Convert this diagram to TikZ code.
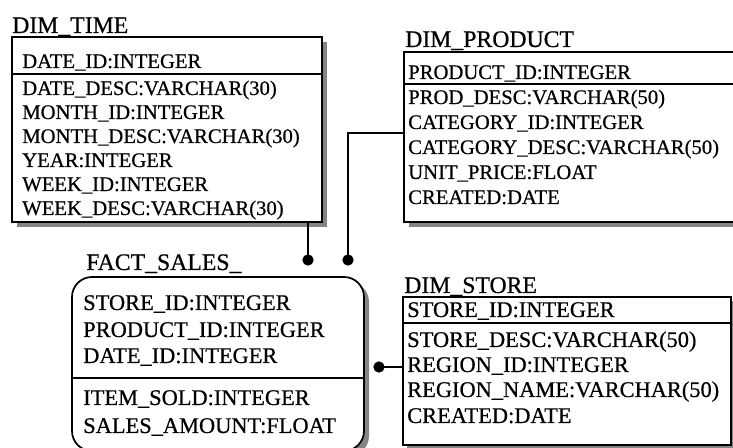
\documentclass[tikz,border=0pt]{standalone}
\usepackage{fontspec}
\setmainfont{Liberation Serif}[FakeBold=0.6]
\usetikzlibrary{positioning}

\tikzset{
  tshadow/.style={fill=black!48, draw=none},
  tbox/.style={draw=black, line width=1.5pt, fill=white},
  sep/.style={line width=1.1pt},
  link/.style={line width=1.5pt},
  dot/.style={circle, fill=black, inner sep=0pt, minimum size=8.5pt},
  tname/.style={anchor=base west, inner sep=0pt, font=\fontsize{17.8}{20}\selectfont},
  field/.style={anchor=base west, inner sep=0pt, font=\fontsize{15.5}{18}\selectfont},
  bigfield/.style={anchor=base west, inner sep=0pt, font=\fontsize{16.8}{19}\selectfont},
}

\begin{document}
\begin{tikzpicture}[x=0.75pt,y=0.75pt,yscale=-1,xscale=1]
\useasboundingbox (0,0) rectangle (733,448);
\clip (0,0) rectangle (733,448);

%Shape: Rectangle [DIM_TIME]
\coordinate (time nw) at (12,37);
\coordinate (time se) at (322,222);
\fill[tshadow] ([shift={(5,5)}]time nw) rectangle ([shift={(5,5)}]time se);
\draw[tbox] (time nw) rectangle (time se);
\draw[sep] (time nw |- 0,74) -- (time se |- 0,74);

%Shape: Rectangle [DIM_PRODUCT]
\coordinate (prod nw) at (404,52);
\coordinate (prod se) at (745,222);
\fill[tshadow] ([shift={(5,5)}]prod nw) rectangle ([shift={(5,5)}]prod se);
\draw[tbox] (prod nw) rectangle (prod se);
\draw[sep] (prod nw |- 0,84) -- (prod se |- 0,84);

%Shape: Rectangle [DIM_STORE]
\coordinate (store nw) at (403,297);
\coordinate (store se) at (731,445);
\fill[tshadow] ([shift={(4,4)}]store nw) rectangle ([shift={(4,4)}]store se);
\draw[tbox] (store nw) rectangle (store se);
\draw[sep] (store nw |- 0,323) -- (store se |- 0,323);

%Shape: Rounded Rect [FACT_SALES_]
\coordinate (fact nw) at (72,277);
\coordinate (fact se) at (364,451);
\fill[tshadow, rounded corners=15pt] ([shift={(5,5)}]fact nw) rectangle ([shift={(5,5)}]fact se);
\draw[tbox, line width=1.3pt, rounded corners=15pt] (fact nw) rectangle (fact se);
\draw[sep] (fact nw |- 0,378) -- (fact se |- 0,378);

% Text Node
\node[tname] (time name) at (12,33) {DIM\_TIME};
\node[field] (time f1) at (22,68) {DATE\_ID:INTEGER};
\node[field] (time f2) at (22,95) {DATE\_DESC:VARCHAR(30)};
\node[field] (time f3) at (22,119) {MONTH\_ID:INTEGER};
\node[field] (time f4) at (22,143) {MONTH\_DESC:VARCHAR(30)};
\node[field] (time f5) at (22,167) {YEAR:INTEGER};
\node[field] (time f6) at (22,191) {WEEK\_ID:INTEGER};
\node[field] (time f7) at (22,215) {WEEK\_DESC:VARCHAR(30)};

% Text Node
\node[tname] (prod name) at (405,47) {DIM\_PRODUCT};
\node[field] (prod f1) at (408,79) {PRODUCT\_ID:INTEGER};
\node[field] (prod f2) at (408,104) {PROD\_DESC:VARCHAR(50)};
\node[field] (prod f3) at (408,129) {CATEGORY\_ID:INTEGER};
\node[field] (prod f4) at (408,154) {CATEGORY\_DESC:VARCHAR(50)};
\node[field] (prod f5) at (408,179) {UNIT\_PRICE:FLOAT};
\node[field] (prod f6) at (408,204) {CREATED:DATE};

% Text Node
\node[tname] (store name) at (404,293) {DIM\_STORE};
\node[bigfield] (store f1) at (407,317) {STORE\_ID:INTEGER};
\node[bigfield] (store f2) at (407,347) {STORE\_DESC:VARCHAR(50)};
\node[bigfield] (store f3) at (407,372) {REGION\_ID:INTEGER};
\node[bigfield] (store f4) at (407,397) {REGION\_NAME:VARCHAR(50)};
\node[bigfield] (store f5) at (407,423) {CREATED:DATE};

% Text Node
\node[tname] (fact name) at (86,270) {FACT\_SALES\_};
\node[bigfield] (fact f1) at (83,310) {STORE\_ID:INTEGER};
\node[bigfield] (fact f2) at (83,337) {PRODUCT\_ID:INTEGER};
\node[bigfield] (fact f3) at (83,363) {DATE\_ID:INTEGER};
\node[bigfield] (fact f4) at (83,405) {ITEM\_SOLD:INTEGER};
\node[bigfield] (fact f5) at (83,433) {SALES\_AMOUNT:FLOAT};

%Straight Lines [links]
\node[dot] (time end) at (308,260) {};
\node[dot] (prod end) at (348,260) {};
\node[dot] (store end) at (379,367) {};
\draw[link] (time end.center) -- (time end |- time se);
\draw[link] (prod end.center) |- (prod nw |- 0,133);
\draw[link] (store end.center) -- (store nw |- store end);

\end{tikzpicture}
\end{document}
